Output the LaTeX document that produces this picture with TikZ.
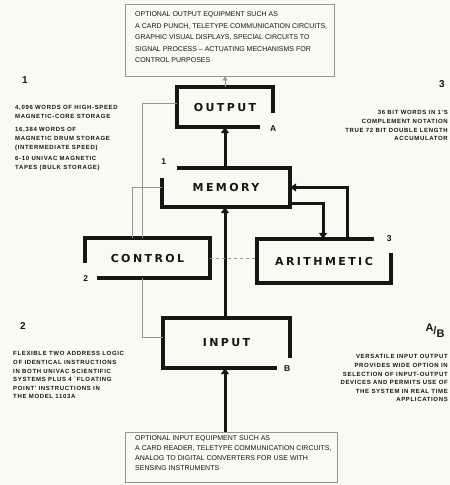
\documentclass[tikz,border=0pt]{standalone}
\usepackage{fontspec}
\setmainfont{Liberation Sans}
\newfontfamily\boxf{DejaVu Sans}[LetterSpace=22]
\newfontfamily\colf{Liberation Sans}[LetterSpace=11]
\usetikzlibrary{arrows.meta,calc}
\definecolor{bg}{RGB}{250,250,243}
\definecolor{ink}{RGB}{22,22,20}
\definecolor{thinc}{RGB}{150,150,145}
\begin{document}
\begin{tikzpicture}[x=1pt,y=-1pt,
  blk/.style={inner sep=0pt, font=\boxf\bfseries\fontsize{11}{12}\selectfont, text=ink},
  border/.style={line width=3.5pt, draw=ink},
  flow/.style={line width=3pt, draw=ink, -{Triangle[width=8pt,length=6pt]}},
  ctrl/.style={line width=0.7pt, draw=thinc},
  eqbox/.style={draw=thinc, line width=0.9pt, inner sep=0pt},
  eqtxt/.style={font=\fontsize{7}{11.5}\selectfont, align=left, anchor=north west, inner sep=0pt, text=ink},
  coltxt/.style={font=\colf\bfseries\fontsize{6}{8.6}\selectfont, inner sep=0pt, text=ink},
  num/.style={font=\bfseries\fontsize{10}{10}\selectfont, inner sep=0pt, text=ink},
  tag/.style={font=\bfseries\fontsize{8.5}{8.5}\selectfont, inner sep=0pt, text=ink}
]
\useasboundingbox (0,0) rectangle (450,485);
\fill[bg] (0,0) rectangle (450,485);
\clip (0,0) rectangle (450,485);

% equipment boxes
\node[eqbox, minimum width=209pt, minimum height=72pt] (obox) at (229.5,40) {};
\node[eqtxt] (otxt) at (135,11.5) {OPTIONAL OUTPUT EQUIPMENT SUCH AS\\A CARD PUNCH, TELETYPE COMMUNICATION CIRCUITS,\\GRAPHIC VISUAL DISPLAYS, SPECIAL CIRCUITS TO\\SIGNAL PROCESS -- ACTUATING MECHANISMS FOR\\CONTROL PURPOSES};
\node[eqbox, minimum width=212pt, minimum height=50pt] (ibox) at (231,457) {};
\node[eqtxt, font=\fontsize{7}{10}\selectfont] (itxt) at (135,435.5) {OPTIONAL INPUT EQUIPMENT SUCH AS\\A CARD READER, TELETYPE COMMUNICATION CIRCUITS,\\ANALOG TO DIGITAL CONVERTERS FOR USE WITH\\SENSING INSTRUMENTS};

% main blocks
\node[blk, minimum width=96pt, minimum height=40pt] (out) at (225,107) {OUTPUT};
\node[blk, minimum width=128pt, minimum height=39pt] (mem) at (226,187.5) {MEMORY};
\node[blk, minimum width=125pt, minimum height=40pt] (ctl) at (147.5,258) {CONTROL};
\node[blk, minimum width=134pt, minimum height=44pt] (ari) at (324,261) {ARITHMETIC};
\node[blk, minimum width=127pt, minimum height=50pt] (inp) at (226.5,343) {INPUT};

% open-cornered borders
\draw[border] ($(out.south east)+(0,-14)$) -- (out.north east) -- (out.north west) -- (out.south west) -- ($(out.south east)+(-13,0)$);
\draw[border] ($(mem.north west)+(15,0)$) -- (mem.north east) -- (mem.south east) -- (mem.south west) -- ($(mem.north west)+(0,10)$);
\draw[border] ($(ctl.north west)+(0,25)$) -- (ctl.north west) -- (ctl.north east) -- (ctl.south east) -- ($(ctl.south west)+(12,0)$);
\draw[border] ($(ari.north east)+(-17,0)$) -- (ari.north west) -- (ari.south west) -- (ari.south east) -- ($(ari.north east)+(0,14)$);
\draw[border] ($(inp.south east)+(0,-10)$) -- (inp.north east) -- (inp.north west) -- (inp.south west) -- ($(inp.south east)+(-13,0)$);

% corner tags
\node[tag] (tA) at ($(out.south east)+(0,1)$) {A};
\node[tag] (t1) at ($(mem.north west)+(2,-6)$) {1};
\node[tag] (t2) at ($(ctl.south west)+(1,0)$) {2};
\node[tag] (t3) at ($(ari.north east)+(-2,0)$) {3};
\node[tag] (tB) at ($(inp.south east)+(-3,0)$) {B};

% data flow
\draw[flow] (out.south |- mem.north) -- (out.south);
\draw[ctrl, -{Triangle[width=5pt,length=4pt]}] (out.north) -- (out.north |- obox.south);
\draw[flow] ($(ari.north)+(23,0)$) |- (mem.east);
\draw[flow] ($(mem.south east)+(0,-4)$) -| ($(ari.north)+(-1,0)$);
\draw[flow] (inp.north -| out.south) -- (mem.south -| out.south);
\draw[flow] (ibox.north -| out.south) -- (inp.south -| out.south);

% control lines
\draw[ctrl] ($(ctl.north)+(-15,0)$) |- (mem.west);
\draw[ctrl] ($(ctl.north)+(-5,0)$) |- ($(out.west)+(0,-4)$);
\draw[ctrl] ($(ctl.south)+(-5,0)$) |- ($(inp.west)+(0,-6)$);
\draw[ctrl, dashed] (ctl.east) -- (ctl.east -| ari.west);

% side notes
\node[num] (n1) at (25,80) {1};
\node[coltxt, anchor=north west, align=left] (c1a) at (15,105.5) {4,096 WORDS OF HIGH-SPEED\\MAGNETIC-CORE STORAGE};
\node[coltxt, anchor=north west, align=left] (c1b) at (15,127.5) {16,384 WORDS OF\\MAGNETIC DRUM STORAGE\\(INTERMEDIATE SPEED)};
\node[coltxt, anchor=north west, align=left] (c1c) at (15,156.5) {6-10 UNIVAC MAGNETIC\\TAPES (BULK STORAGE)};

\node[num] (n2) at (23,326) {2};
\node[coltxt, anchor=north west, align=left] (c2) at (13,351.5) {FLEXIBLE TWO ADDRESS LOGIC\\OF IDENTICAL INSTRUCTIONS\\IN BOTH UNIVAC SCIENTIFIC\\SYSTEMS PLUS 4 `FLOATING\\POINT' INSTRUCTIONS IN\\THE MODEL 1103A};

\node[num] (n3) at (442,84) {3};
\node[coltxt, anchor=north east, align=right] (c3) at (448,110.5) {36 BIT WORDS IN 1'S\\COMPLEMENT NOTATION\\TRUE 72 BIT DOUBLE LENGTH\\ACCUMULATOR};

\node[num, font=\bfseries\fontsize{11}{11}\selectfont] (n4) at (435,331) {\raisebox{3pt}{A}/\raisebox{-3pt}{B}};
\node[coltxt, anchor=north east, align=right] (c4) at (448,354.5) {VERSATILE INPUT OUTPUT\\PROVIDES WIDE OPTION IN\\SELECTION OF INPUT-OUTPUT\\DEVICES AND PERMITS USE OF\\THE SYSTEM IN REAL TIME\\APPLICATIONS};
\end{tikzpicture}
\end{document}
